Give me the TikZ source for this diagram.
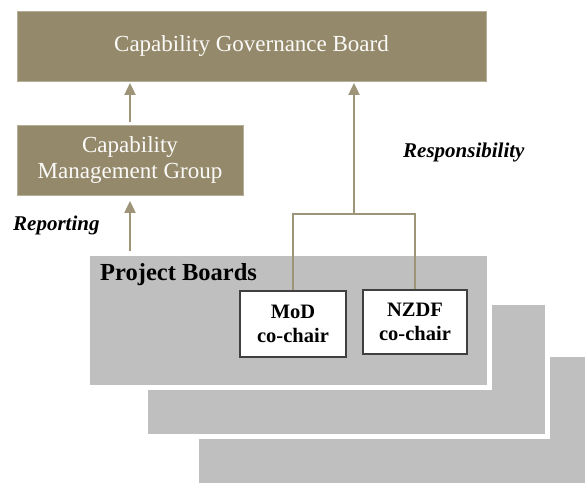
\documentclass[tikz,border=0pt]{standalone}
\usepackage{fontspec}
\setmainfont{Liberation Serif}
\usetikzlibrary{arrows.meta}

\definecolor{board}{RGB}{148,138,107}
\definecolor{stack}{RGB}{191,191,191}
\definecolor{link}{RGB}{158,148,120}

\tikzset{
  boardbox/.style={rectangle, fill=board, draw=board!70!white, line width=0.8pt,
    text=white!96!board, align=center, font=\fontsize{23}{26}\selectfont},
  chairbox/.style={rectangle, fill=white, draw=black!75, line width=1.6pt,
    align=center, font=\bfseries\fontsize{20.5}{24}\selectfont},
  stackbox/.style={rectangle, fill=stack, draw=white, line width=5pt,
    minimum width=402pt, minimum height=134pt},
  upline/.style={draw=link, line width=2pt, -{Triangle[width=11pt,length=12pt]}},
  tieline/.style={draw=link, line width=1.5pt},
  tag/.style={inner sep=0pt, font=\bfseries\itshape\fontsize{21}{22}\selectfont}
}

\begin{document}
\begin{tikzpicture}[x=1pt,y=-1pt]
 	\useasboundingbox (0,0) rectangle (585,482);
 	\clip (0,0) rectangle (585,482);
 	
 	% Draw the stacked project boards, back to front
 	\foreach \k/\px/\py in {3/397.5/421.5, 2/346/369.5} {
 		\node[stackbox] (pb\k) at (\px,\py) {};
 	}
 	\node[stackbox] (pb) at (288.5,320.5) {};
 	\node[anchor=base west, inner sep=0pt, font=\bfseries\fontsize{24.5}{26}\selectfont] (pbtitle) at (100,280) {Project Boards};
 	
 	% Boards and groups
 	\node[boardbox, minimum width=469pt, minimum height=70pt] (cgb) at (251.5,46) {Capability Governance Board};
 	\node[boardbox, minimum width=226pt, minimum height=70pt] (cmg) at (130,160) {Capability\\Management Group};
 	
 	% Co-chairs
 	\node[chairbox, minimum width=106pt, minimum height=66pt] (mod) at (293,324) {MoD\\co-chair};
 	\node[chairbox, minimum width=104pt, minimum height=64pt] (nzdf) at (415,322) {NZDF\\co-chair};
 	
 	% Reporting lines
 	\draw[upline, shorten <=2.5pt, shorten >=1.5pt] (cmg.north) -- (cmg.north |- cgb.south);
 	\draw[upline, shorten >=5.5pt] (cmg.south |- pb.north) -- (cmg.south);
 	
 	% Responsibility line from the co-chairs
 	\coordinate (join) at (354,214);
 	\draw[tieline] (mod.north) |- (join) -| (nzdf.north);
 	\draw[upline, shorten >=1.5pt] (join) -- (join |- cgb.south);
 	
 	% Labels
 	\node[tag, anchor=base west] (reporting) at (13,230) {Reporting};
 	\node[tag, anchor=base west] (responsibility) at (403,157) {Responsibility};
\end{tikzpicture}
\end{document}
